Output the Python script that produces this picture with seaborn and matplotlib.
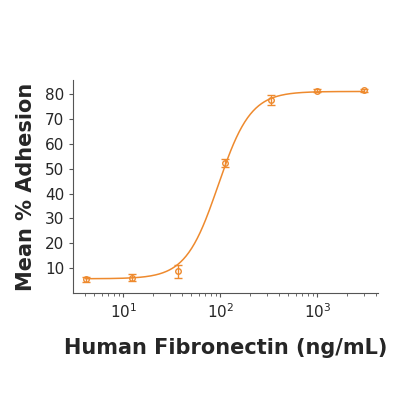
import numpy as np
import matplotlib
matplotlib.use("Agg")
import matplotlib.pyplot as plt
import seaborn as sns
from matplotlib.ticker import LogLocator, NullFormatter

conc = [4.1, 12.3, 37, 111, 333, 1000, 3000]
adhesion = [5.6, 6.3, 8.8, 52.2, 77.6, 81.2, 81.5]
err = [1.0, 1.5, 2.5, 1.5, 2.0, 0.6, 0.6]

# 4PL fit parameters
bottom, top, ec50, hill = 5.8, 81.0, 95.0, 2.6

color = "#EE8A2E"

sns.set_style("ticks")
fig, ax = plt.subplots(figsize=(4, 4), dpi=100)
fig.subplots_adjust(left=0.183, right=0.945, top=0.80, bottom=0.267)

xs = np.logspace(np.log10(4.1), np.log10(3000), 300)
ys = bottom + (top - bottom) / (1 + (ec50 / xs) ** hill)
sns.lineplot(x=xs, y=ys, color=color, lw=1.1, ax=ax)
ax.errorbar(conc, adhesion, yerr=err, fmt="o", mfc="none", mec=color,
            ecolor=color, ms=4, mew=1, capsize=3, elinewidth=1)

ax.set_xscale("log")
ax.set_xlim(3.05, 4200)
ax.set_ylim(0, 85.6)
ax.set_yticks([10, 20, 30, 40, 50, 60, 70, 80])
ax.xaxis.set_minor_locator(LogLocator(base=10, subs=np.arange(2, 10)))
ax.xaxis.set_minor_formatter(NullFormatter())
ax.tick_params(axis="both", labelsize=11, color="#555555", length=3)
ax.tick_params(axis="x", which="minor", length=2, color="#555555")
for s in ["left", "bottom"]:
    ax.spines[s].set_color("#555555")
sns.despine(ax=ax)

ax.set_xlabel("Human Fibronectin (ng/mL)", fontsize=15, fontweight="bold", labelpad=12)
ax.set_ylabel("Mean % Adhesion", fontsize=15, fontweight="bold", labelpad=6)

fig.savefig("out.png", dpi=100)
